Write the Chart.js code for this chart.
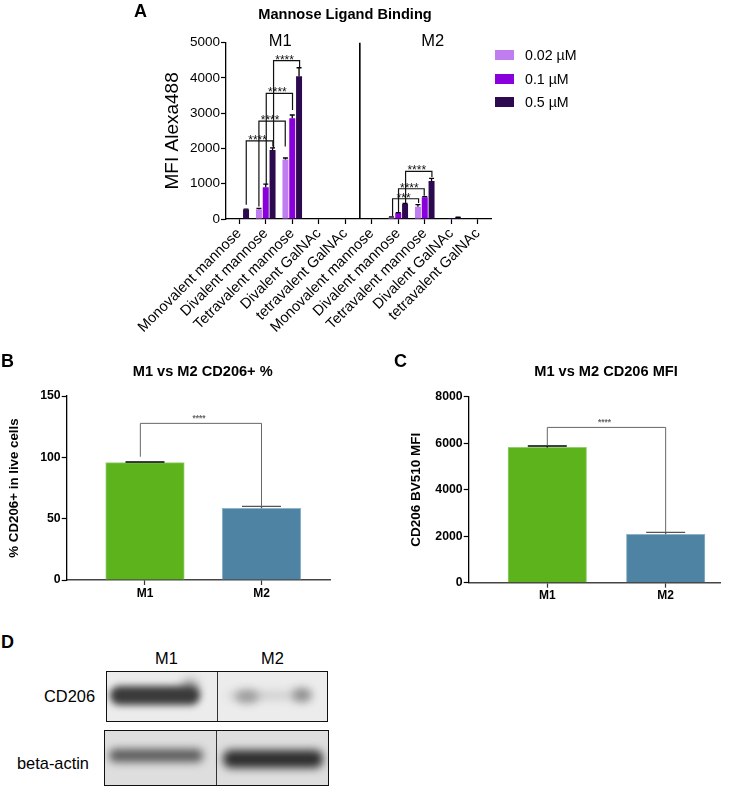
<!DOCTYPE html>
<html lang="en">
<head>
<meta charset="UTF-8">
<title>Mannose Ligand Binding</title>
<style>
  html, body { margin: 0; padding: 0; background: #fff; }
  body { width: 745px; height: 787px; overflow: hidden; position: relative; font-family: "Liberation Sans", Arial, sans-serif; color: #000; }
  canvas { position: absolute; }
  .letter { position: absolute; font-weight: bold; font-size: 18px; line-height: 18px; }
  .row { position: absolute; left: 495px; height: 20px; font-size: 14.2px; line-height: 20px; padding-left: 30px; white-space: nowrap; }
  .row i { position: absolute; left: 0; top: 5px; width: 19px; height: 10px; }
  .txt { position: absolute; font-size: 16.4px; line-height: 18px; white-space: nowrap; }
  .blot { position: absolute; box-sizing: border-box; border: 1.3px solid #111; overflow: hidden; }
  .blot b { position: absolute; display: block; border-radius: 50%; }
  .blot u { position: absolute; display: block; top: 0; bottom: 0; width: 1px; background: #333; }
</style>
</head>
<body>

<canvas id="chartA" width="690" height="345" style="left:0;top:0"></canvas>
<canvas id="chartB" width="405" height="260" style="left:0;top:350px"></canvas>
<canvas id="chartC" width="345" height="260" style="left:400px;top:350px"></canvas>

<div id="legend"></div>

<div class="letter" style="left:134px;top:2px">A</div>
<div class="letter" style="left:1px;top:352px">B</div>
<div class="letter" style="left:394px;top:352px">C</div>
<div class="letter" style="left:1px;top:633px">D</div>

<!-- western blot -->
<div class="txt" style="left:155px;top:649px">M1</div>
<div class="txt" style="left:261px;top:649px">M2</div>
<div class="txt" style="left:44px;top:687px">CD206</div>
<div class="txt" style="left:17px;top:754px">beta-actin</div>

<div class="blot" style="left:106px;top:671px;width:222px;height:51px;background:#ececec">
  <b style="left:74px;top:6px;width:18px;height:18px;background:#a8a8a8;filter:blur(5px)"></b>
  <b style="left:3px;top:14px;width:90px;height:19px;background:#3a3a3a;border-radius:9px;filter:blur(3.5px)"></b>
  <b style="left:118px;top:19px;width:84px;height:9px;background:#cfcfcf;filter:blur(4px)"></b>
  <b style="left:128px;top:18px;width:24px;height:13px;background:#9a9a9a;filter:blur(4px)"></b>
  <b style="left:185px;top:16px;width:20px;height:14px;background:#8e8e8e;filter:blur(4px)"></b>
  <u style="left:110px"></u>
</div>
<div class="blot" style="left:104px;top:730px;width:225px;height:56px;background:#dedede">
  <b style="left:4px;top:18px;width:94px;height:13px;background:#5a5a5a;border-radius:6px;filter:blur(4px)"></b>
  <b style="left:118px;top:19px;width:100px;height:18px;background:#2e2e2e;border-radius:8px;filter:blur(4px)"></b>
  <u style="left:111px"></u>
</div>

<script src="https://cdn.jsdelivr.net/npm/chart.js"></script>
<script>
// panel A
const ligands = ['Monovalent mannose', 'Divalent mannose', 'Tetravalent mannose', 'Divalent GalNAc', 'tetravalent GalNAc',
  'Monovalent mannose', 'Divalent mannose', 'Tetravalent mannose', 'Divalent GalNAc', 'tetravalent GalNAc'];
const doses = ['0.02 µM', '0.1 µM', '0.5 µM'];
const doseColors = ['#c07df0', '#8a00dd', '#2d0a4f'];
const lowDose = [0, 280, 1690, 0, 0, 0, 55, 350, 0, 0];
const midDose = [15, 900, 2860, 0, 0, 0, 170, 615, 10, 0];
const highDose = [270, 1960, 4050, 0, 0, 15, 425, 1080, 40, 0];
const lowErr = [0, 20, 40, 0, 0, 0, 5, 60, 0, 0];
const midErr = [0, 90, 90, 0, 0, 0, 10, 20, 0, 0];
const highErr = [10, 60, 240, 0, 0, 0, 20, 70, 10, 0];
const ticksA = [0, 1000, 2000, 3000, 4000, 5000];
// x1, y1, x2, y2, top, stars (scale units)
const bracketsA = [
  [0.264, 405, 1.27, 2057, 2217, '****'],
  [0.742, 358, 1.736, 2057, 2774, '****'],
  [1.019, 972, 2.01, 3094, 3566, '****'],
  [1.295, 2009, 2.277, 4302, 4491, '****'],
  [5.786, 75, 6.767, 453, 575, '***'],
  [6.01, 190, 6.98, 660, 858, '****'],
  [6.277, 453, 7.27, 1190, 1350, '****']
];

// panels B and C
const groups = ['M1', 'M2'];
const barColors = ['#5db31c', '#4e83a3'];
const barEdges = ['#93cf6e', '#8db4cb'];
const capColors = ['#000', '#555'];
const percentValues = [95.7, 58.5];
const percentErr = [0.5, 1.5];
const percentBracket = [[0.96, 100.5, 2, 60, 127.7, '****']];
const mfiValues = [5820, 2080];
const mfiErr = [60, 85];
const mfiBracket = [[1, 5900, 2, 2180, 6680, '****']];

Chart.defaults.font.family = '"Liberation Sans", Arial, sans-serif';
Chart.defaults.color = '#000';
Chart.defaults.animation = false;

// error bars (up only), brackets with stars
function marks(errs, capWidth, capCols, brackets, starFont, starDrop, lineCol, lineW) {
  return {
    id: 'marks',
    afterDatasetsDraw(chart) {
      const c = chart.ctx, x = chart.scales.x, y = chart.scales.y;
      c.save();
      errs.forEach((err, d) => {
        chart.getDatasetMeta(d).data.forEach((bar, i) => {
          if (!err[i]) return;
          const val = chart.data.datasets[d].data[i];
          const top = y.getPixelForValue((val.y === undefined ? val : val.y) + err[i]);
          c.strokeStyle = capCols[i] || '#000';
          c.lineWidth = 1.3;
          c.beginPath();
          c.moveTo(bar.x, bar.y);
          c.lineTo(bar.x, top);
          c.moveTo(bar.x - capWidth / 2, top);
          c.lineTo(bar.x + capWidth / 2, top);
          c.stroke();
        });
      });
      brackets.forEach(b => {
        const x1 = x.getPixelForValue(b[0]), x2 = x.getPixelForValue(b[2]), t = y.getPixelForValue(b[4]);
        c.strokeStyle = lineCol;
        c.lineWidth = lineW;
        c.beginPath();
        c.moveTo(x1, y.getPixelForValue(b[1]));
        c.lineTo(x1, t);
        c.lineTo(x2, t);
        c.lineTo(x2, y.getPixelForValue(b[3]));
        c.stroke();
        c.fillStyle = lineCol;
        c.font = starFont;
        c.textAlign = 'center';
        c.textBaseline = 'alphabetic';
        c.fillText(b[5], (x1 + x2) / 2 - 2, t + starDrop);
      });
      c.restore();
    }
  };
}

// the title box follows the padded area, put it back where the figure has it
function titleAt(center) {
  return {
    id: 'titleAt',
    afterLayout(chart) {
      chart.titleBlock.left = center - 150;
      chart.titleBlock.right = center + 150;
    }
  };
}

// divider and M1 / M2 headings of panel A
const splitA = {
  id: 'splitA',
  afterDraw(chart) {
    const c = chart.ctx, x = chart.scales.x, area = chart.chartArea;
    c.save();
    c.strokeStyle = '#000';
    c.lineWidth = 1.6;
    c.beginPath();
    c.moveTo(x.getPixelForValue(4.55), area.top);
    c.lineTo(x.getPixelForValue(4.55), area.bottom);
    c.stroke();
    c.fillStyle = '#000';
    c.font = '16.5px "Liberation Sans", Arial, sans-serif';
    c.textAlign = 'center';
    c.textBaseline = 'middle';
    c.fillText('M1', x.getPixelForValue(1.55), area.top - 1);
    c.fillText('M2', x.getPixelForValue(7.3), area.top - 1);
    c.restore();
  }
};

new Chart(document.getElementById('chartA'), {
  type: 'bar',
  data: {
    labels: ligands,
    datasets: [lowDose, midDose, highDose].map((vals, i) => ({
      label: doses[i],
      data: vals,
      backgroundColor: doseColors[i],
      categoryPercentage: 0.77,
      barPercentage: 0.88
    }))
  },
  options: {
    responsive: false,
    layout: { autoPadding: false, padding: { left: 0, top: 0, right: 199, bottom: 0 } },
    plugins: {
      legend: { display: false },
      tooltip: { enabled: false },
      title: {
        display: true,
        text: 'Mannose Ligand Binding',
        color: '#000',
        font: { size: 14.6, weight: 'bold' },
        padding: { top: 6, bottom: 19.2 }
      }
    },
    scales: {
      x: {
        afterFit: s => { s.height = 126; },
        grid: { offset: false, drawOnChartArea: false, tickLength: 5, tickColor: '#000', tickWidth: 1.2 },
        border: { color: '#000', width: 1.3 },
        ticks: { autoSkip: false, minRotation: 45, maxRotation: 45, padding: 1, font: { size: 14.6 } }
      },
      y: {
        min: 0,
        max: 5000,
        afterFit: s => { s.width = 226; },
        afterBuildTicks: s => { s.ticks = ticksA.map(v => ({ value: v })); },
        grid: { drawOnChartArea: false, tickLength: 5, tickColor: '#000', tickWidth: 1.2 },
        border: { color: '#000', width: 1.3 },
        ticks: { padding: 1, font: { size: 13.5 }, callback: v => String(v) },
        title: { display: true, text: 'MFI Alexa488', font: { size: 19 }, padding: { top: 161.6, bottom: 0 } }
      }
    }
  },
  plugins: [marks([lowErr, midErr, highErr], 5, [], bracketsA, '12px "Liberation Sans", Arial, sans-serif', 3, '#111', 1.2), splitA, titleAt(345)]
});

function barPanel(id, o) {
  new Chart(document.getElementById(id), {
    type: 'bar',
    data: {
      datasets: [{
        data: o.values.map((v, i) => ({ x: i + 1, y: v })),
        backgroundColor: barColors,
        borderColor: barEdges,
        borderWidth: 1,
        barThickness: 78.5
      }]
    },
    options: {
      responsive: false,
      layout: { autoPadding: false, padding: { left: 0, top: 0, right: o.right, bottom: 0 } },
      plugins: {
        legend: { display: false },
        tooltip: { enabled: false },
        title: {
          display: true,
          text: o.title,
          color: '#000',
          font: { size: 14.6, weight: 'bold' },
          padding: { top: 13, bottom: o.titleGap }
        }
      },
      scales: {
        x: {
          type: 'linear',
          offset: false,
          min: o.xMin,
          max: o.xMax,
          afterFit: s => { s.height = o.xHeight; },
          afterBuildTicks: s => { s.ticks = groups.map((g, i) => ({ value: i + 1 })); },
          grid: { offset: false, drawOnChartArea: false, tickLength: 5, tickColor: '#333', tickWidth: 1.2 },
          border: { color: '#444', width: 1.4 },
          ticks: {
            autoSkip: false,
            maxRotation: 0,
            padding: 1,
            font: { size: 12, weight: 'bold' },
            callback: v => groups[v - 1]
          }
        },
        y: {
          min: 0,
          max: o.yMax,
          afterFit: s => { s.width = o.yWidth; },
          grid: { drawOnChartArea: false, tickLength: 5, tickColor: '#000', tickWidth: 1.2 },
          border: { color: '#000', width: 1.3 },
          ticks: { stepSize: o.yStep, padding: 1, font: { size: 12.3, weight: 'bold' }, callback: v => String(v) },
          title: {
            display: true,
            text: o.yTitle,
            font: { size: o.yTitleSize, weight: 'bold' },
            padding: { top: o.yTitlePad, bottom: 0 }
          }
        }
      }
    },
    plugins: [marks([o.errs], 39, capColors, o.bracket, 'bold 8.3px "Liberation Sans", Arial, sans-serif', -2, '#666', 1), titleAt(o.titleX)]
  });
}

barPanel('chartB', {
  title: 'M1 vs M2 CD206+ %', yTitle: '% CD206+ in live cells', yTitleSize: 13.3, yTitlePad: 6,
  values: percentValues, errs: percentErr, bracket: percentBracket, titleX: 202.7,
  yMax: 150, yStep: 50, yWidth: 66.7, right: 75, xHeight: 30, titleGap: 15.5, xMin: 0.328, xMax: 2.588
});

barPanel('chartC', {
  title: 'M1 vs M2 CD206 MFI', yTitle: 'CD206 BV510 MFI', yTitleSize: 13.5, yTitlePad: 8,
  values: mfiValues, errs: mfiErr, bracket: mfiBracket, titleX: 206,
  yMax: 8000, yStep: 2000, yWidth: 68.7, right: 25, xHeight: 27.3, titleGap: 16.2, xMin: 0.336, xMax: 2.459
});

// legend of panel A
const rowTops = [45, 68.5, 92];
document.getElementById('legend').innerHTML = doses.map((d, i) =>
  '<div class="row" style="top:' + rowTops[i] + 'px"><i style="background:' + doseColors[i] + '"></i>' + d + '</div>').join('');
</script>
</body>
</html>
